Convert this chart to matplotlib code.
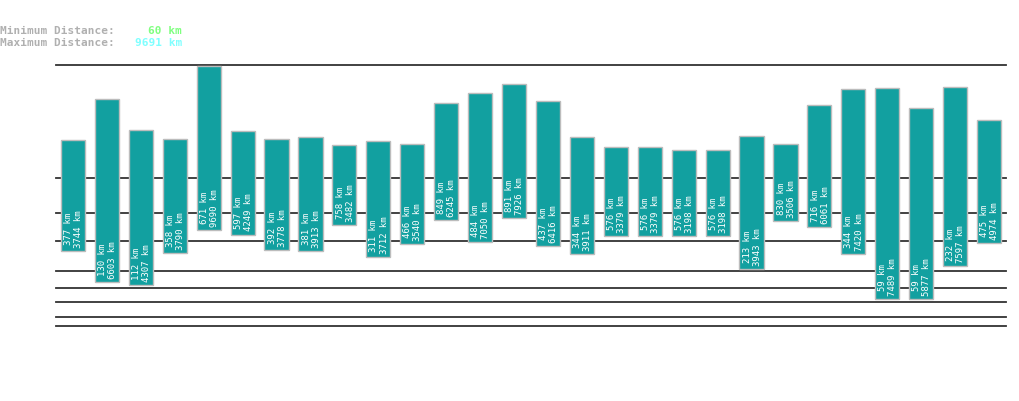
import matplotlib
matplotlib.use("Agg")
import matplotlib.pyplot as plt
import numpy as np

min_km = [377, 130, 112, 358, 671, 597, 392, 381, 758, 311, 466, 849, 484, 891,
          437, 344, 576, 576, 576, 576, 213, 830, 716, 344, 59, 59, 232, 475]
max_km = [3744, 6603, 4307, 3790, 9690, 4249, 3778, 3913, 3482, 3712, 3540, 6245, 7050, 7926,
          6416, 3911, 3379, 3379, 3198, 3198, 3943, 3506, 6061, 7420, 7489, 5877, 7597, 4974]
grid_values = [10, 20, 50, 100, 200, 500, 1000, 2000]
y_top = 9790
header_min = "60 km"
header_max = "9691 km"

EXP = 0.3
def fwd(v):
    return np.power(np.clip(v, 0, None), EXP)
def inv(v):
    return np.power(np.clip(v, 0, None), 1.0 / EXP)

W, H = 1019, 402
fig = plt.figure(figsize=(W / 100, H / 100), dpi=100)
fig.patch.set_facecolor("white")
ax = fig.add_axes([56 / W, (H - 364.4) / H, 950 / W, (364.4 - 66.3) / H])
ax.set_yscale("function", functions=(fwd, inv))
n = len(min_km)
x = np.arange(n)
ax.set_xlim(-0.5, n - 0.5)
ax.set_ylim(0, y_top)
for s in ax.spines.values():
    s.set_visible(False)
ax.set_xticks([])
ax.set_yticks([])
ax.minorticks_off()
ax.tick_params(which="both", left=False, bottom=False, labelleft=False, labelbottom=False)

for g in grid_values + [y_top]:
    ax.axhline(g, color="#333333", lw=1.3, zorder=1, clip_on=False)

heights = np.array(max_km) - np.array(min_km)
ax.bar(x, heights, bottom=min_km, width=0.71, color="#12a0a0",
       edgecolor="#bcbcbc", linewidth=1.0, zorder=2)

mono = "DejaVu Sans Mono"
for xi, lo, hi in zip(x, min_km, max_km):
    ax.annotate(f"{lo} km\n{hi} km", xy=(xi, lo), xytext=(0.5, 3), textcoords="offset points",
                rotation=90, ha="center", va="bottom", color="white", family=mono,
                fontsize=6.5, linespacing=1.15, zorder=3)

hdr = dict(family=mono, fontsize=8, fontweight="bold", va="center")
fig.text(0, (H - 31.5) / H, "Minimum Distance:", color="#b0b0b0", ha="left", **hdr)
fig.text(182 / W, (H - 31.5) / H, header_min, color="#80ff80", ha="right", **hdr)
fig.text(0, (H - 43.3) / H, "Maximum Distance:", color="#b0b0b0", ha="left", **hdr)
fig.text(182 / W, (H - 43.3) / H, header_max, color="#80ffff", ha="right", **hdr)

fig.savefig("out.png", dpi=100, facecolor="white")
